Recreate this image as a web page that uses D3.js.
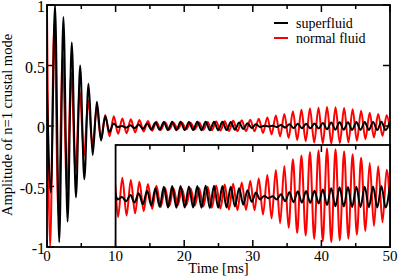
<!DOCTYPE html>
<html>
<head>
<meta charset="utf-8">
<script src="https://cdn.jsdelivr.net/npm/d3@7"></script>
<style>
  body { margin: 0; background: #fff; }
  svg { display: block; }
  svg text { font-family: "Liberation Serif", "Times New Roman", Times, "DejaVu Serif", serif; }
</style>
</head>
<body>
<div id="container"></div>
<script>

// Extrema of each curve (time in ms, amplitude)
var superfluidTime = [0, 0.56, 1.17, 1.78, 2.39, 3.0, 3.61, 4.22, 4.83, 5.44, 6.05, 6.66, 7.27, 7.88, 8.49, 9.1, 9.71,
  10.32, 10.93, 11.54, 12.15, 12.76, 13.37, 13.98, 14.59, 15.2, 15.81, 16.42, 17.03, 17.64, 18.25, 18.86, 19.47,
  20.08, 20.69, 21.3, 21.91, 22.52, 23.13, 23.74, 24.35, 24.96, 25.57, 26.18, 26.79, 27.4, 28.01, 28.62, 29.23,
  29.84, 30.45, 31.06, 31.67, 32.28, 32.89, 33.5, 34.11, 34.72, 35.33, 35.94, 36.55, 37.16, 37.77, 38.38, 38.99,
  39.6, 40.21, 40.82, 41.43, 42.04, 42.65, 43.26, 43.87, 44.48, 45.09, 45.7, 46.31, 46.92, 47.53, 48.14, 48.75,
  49.36, 49.97];
var superfluidAmp = [0.3, -0.55, 1.0, -0.96, 0.9, -0.79, 0.69, -0.59, 0.5, -0.44, 0.35, -0.24, 0.2, -0.12, 0.08, -0.05, 0.02,
  -0.008, 0.0, -0.014, 0.006, -0.018, 0.012, -0.024, 0.02, -0.028, 0.028, -0.032, 0.033, -0.034, 0.035, -0.035, 0.035,
  -0.034, 0.034, -0.034, 0.035, -0.035, 0.036, -0.036, 0.036, -0.035, 0.035, -0.034, 0.033, -0.031, 0.028, -0.025, 0.022,
  -0.016, 0.014, -0.008, 0.003, -0.004, 0.002, -0.008, 0.009, -0.014, 0.015, -0.017, 0.018, -0.018, 0.019, -0.019, 0.02,
  -0.021, 0.024, -0.026, 0.028, -0.03, 0.031, -0.031, 0.032, -0.033, 0.033, -0.033, 0.033, -0.033, 0.034, -0.034, 0.035,
  -0.034, 0.034];

var normalTime = [0, 0.45, 1.06, 1.67, 2.29, 2.91, 3.53, 4.15, 4.77, 5.39, 6.01, 6.63, 7.25, 7.87, 8.49, 9.11, 9.74,
  10.36, 10.98, 11.6, 12.22, 12.84, 13.47, 14.09, 14.71, 15.33, 15.95, 16.57, 17.2, 17.82, 18.44, 19.06, 19.68,
  20.3, 20.93, 21.55, 22.17, 22.79, 23.41, 24.03, 24.66, 25.28, 25.9, 26.52, 27.14, 27.76, 28.39, 29.01, 29.63,
  30.25, 30.87, 31.49, 32.12, 32.74, 33.36, 33.98, 34.6, 35.22, 35.85, 36.47, 37.09, 37.71, 38.33, 38.95, 39.58,
  40.2, 40.82, 41.44, 42.06, 42.68, 43.31, 43.93, 44.55, 45.17, 45.79, 46.41, 47.04, 47.66, 48.28, 48.9, 49.52, 50.0];
var normalAmp = [0.95, -1.0, 0.85, -0.74, 0.59, -0.53, 0.44, -0.37, 0.29, -0.25, 0.21, -0.16, 0.14, -0.11, 0.09, -0.085, 0.08,
  -0.065, 0.062, -0.06, 0.055, -0.053, 0.049, -0.046, 0.042, -0.039, 0.036, -0.033, 0.03, -0.029, 0.027, -0.027, 0.026,
  -0.027, 0.027, -0.028, 0.029, -0.031, 0.033, -0.035, 0.037, -0.038, 0.04, -0.041, 0.043, -0.043, 0.047, -0.042, 0.052,
  -0.043, 0.06, -0.057, 0.071, -0.07, 0.087, -0.085, 0.1, -0.1, 0.122, -0.117, 0.134, -0.125, 0.145, -0.136, 0.151,
  -0.143, 0.157, -0.146, 0.154, -0.141, 0.148, -0.135, 0.138, -0.122, 0.127, -0.11, 0.11, -0.094, 0.099, -0.082, 0.088, -0.03];

// Axis ticks
var xMajor = [0, 10, 20, 30, 40, 50];
var xMinor = [5, 15, 25, 35, 45];
var yMajor = [1, 0.5, 0, -0.5, -1];
var yLabels = ["1", "0.5", "0", "-0.5", "-1"];

var series = [
  {name: "superfluid", color: "#000000", data: d3.zip(superfluidTime, superfluidAmp)},
  {name: "normal fluid", color: "#ff0000", data: d3.zip(normalTime, normalAmp)}
];

var width = 399,
    height = 278;

var serif = "'Liberation Serif', 'Times New Roman', Times, 'DejaVu Serif', serif";

var svg = d3.select("#container")
            .append("svg")
              .attr("width", width)
              .attr("height", height);

// Main scales
var x = d3.scaleLinear().domain([0, 50]).range([47, 390]);
var y = d3.scaleLinear().domain([-1, 1]).range([247, 5]);

// Inset: same time axis from 10 ms, magnified amplitude
var yIn = d3.scaleLinear().domain([-0.162, 0.168]).range([247, 145]);

var defs = svg.append("defs");
defs.append("clipPath").attr("id", "clipMain")
  .append("rect")
    .attr("x", x(0)).attr("y", y(1))
    .attr("width", x(50) - x(0)).attr("height", y(-1) - y(1));
defs.append("clipPath").attr("id", "clipInset")
  .append("rect")
    .attr("x", x(10)).attr("y", yIn.range()[1])
    .attr("width", x(50) - x(10)).attr("height", yIn.range()[0] - yIn.range()[1]);

// Main ticks (inward)
var ticks = svg.append("g").attr("stroke", "#000").attr("stroke-width", 1.5);
xMajor.forEach(function(t) {
  ticks.append("line").attr("x1", x(t)).attr("x2", x(t)).attr("y1", y(-1)).attr("y2", y(-1) - 7);
  ticks.append("line").attr("x1", x(t)).attr("x2", x(t)).attr("y1", y(1)).attr("y2", y(1) + 7);
});
xMinor.forEach(function(t) {
  ticks.append("line").attr("x1", x(t)).attr("x2", x(t)).attr("y1", y(-1)).attr("y2", y(-1) - 4);
  ticks.append("line").attr("x1", x(t)).attr("x2", x(t)).attr("y1", y(1)).attr("y2", y(1) + 4);
});
yMajor.forEach(function(v) {
  ticks.append("line").attr("x1", x(0)).attr("x2", x(0) + 7).attr("y1", y(v)).attr("y2", y(v));
  ticks.append("line").attr("x1", x(50)).attr("x2", x(50) - 7).attr("y1", y(v)).attr("y2", y(v));
});

// Curves through the extrema
var line = d3.line()
             .x(function(d) { return x(d[0]); })
             .y(function(d) { return y(d[1]); })
             .curve(d3.curveMonotoneX);

var lineIn = d3.line()
               .x(function(d) { return x(d[0]); })
               .y(function(d) { return yIn(d[1]); })
               .curve(d3.curveMonotoneX);

// red first so black sits on top
var drawOrder = [series[1], series[0]];

svg.append("g")
  .attr("clip-path", "url(#clipMain)")
  .selectAll("path")
  .data(drawOrder)
  .enter()
  .append("path")
    .attr("d", function(d) { return line(d.data); })
    .attr("fill", "none")
    .attr("stroke", function(d) { return d.color; })
    .attr("stroke-width", 2)
    .attr("stroke-linejoin", "round");

// Main frame
svg.append("rect")
  .attr("x", x(0)).attr("y", y(1))
  .attr("width", x(50) - x(0)).attr("height", y(-1) - y(1))
  .attr("fill", "none")
  .attr("stroke", "#000")
  .attr("stroke-width", 1.8);

// Inset box
svg.append("rect")
  .attr("x", x(10)).attr("y", yIn.range()[1])
  .attr("width", x(50) - x(10)).attr("height", yIn.range()[0] - yIn.range()[1])
  .attr("fill", "#fff");

svg.append("g")
  .attr("clip-path", "url(#clipInset)")
  .selectAll("path")
  .data(drawOrder)
  .enter()
  .append("path")
    .attr("d", function(d) { return lineIn(d.data.filter(function(p) { return p[0] > 8.5; })); })
    .attr("fill", "none")
    .attr("stroke", function(d) { return d.color; })
    .attr("stroke-width", 2)
    .attr("stroke-linejoin", "round");

// Inset ticks along its top edge, and the shared bottom ticks again
var insetTicks = svg.append("g").attr("stroke", "#000").attr("stroke-width", 1.5);
[20, 30, 40].forEach(function(t) {
  insetTicks.append("line").attr("x1", x(t)).attr("x2", x(t)).attr("y1", yIn.range()[1]).attr("y2", yIn.range()[1] + 7);
  insetTicks.append("line").attr("x1", x(t)).attr("x2", x(t)).attr("y1", y(-1)).attr("y2", y(-1) - 7);
});
[15, 25, 35, 45].forEach(function(t) {
  insetTicks.append("line").attr("x1", x(t)).attr("x2", x(t)).attr("y1", yIn.range()[1]).attr("y2", yIn.range()[1] + 4.5);
  insetTicks.append("line").attr("x1", x(t)).attr("x2", x(t)).attr("y1", y(-1)).attr("y2", y(-1) - 4);
});

svg.append("rect")
  .attr("x", x(10)).attr("y", yIn.range()[1])
  .attr("width", x(50) - x(10)).attr("height", yIn.range()[0] - yIn.range()[1])
  .attr("fill", "none")
  .attr("stroke", "#000")
  .attr("stroke-width", 1.8);

// Tick labels
svg.append("g")
  .selectAll("text")
  .data(xMajor)
  .enter()
  .append("text")
    .attr("x", function(d) { return x(d); })
    .attr("y", 261)
    .attr("text-anchor", "middle")
    .attr("font-family", serif)
    .style("font-size", "15px")
    .text(function(d) { return d; });

svg.append("g")
  .selectAll("text")
  .data(yMajor)
  .enter()
  .append("text")
    .attr("x", 45)
    .attr("y", function(d) { return y(d) + 1.5; })
    .attr("dy", "0.35em")
    .attr("text-anchor", "end")
    .attr("font-family", serif)
    .style("font-size", "16px")
    .text(function(d, i) { return yLabels[i]; });

// Axis titles
svg.append("text")
  .attr("x", 218.5)
  .attr("y", 272.5)
  .attr("text-anchor", "middle")
  .attr("font-family", serif)
  .style("font-size", "14.5px")
  .text("Time [ms]");

svg.append("text")
  .attr("transform", "translate(12,125) rotate(-90)")
  .attr("text-anchor", "middle")
  .attr("font-family", serif)
  .style("font-size", "14.5px")
  .text("Amplitude of n=1 crustal mode");

// Legend
var legend = svg.append("g")
                .selectAll("g")
                .data(series)
                .enter()
                .append("g")
                  .attr("transform", function(d, i) { return "translate(274," + (23 + i * 15) + ")"; });

legend.append("line")
  .attr("x1", 0).attr("x2", 14)
  .attr("stroke", function(d) { return d.color; })
  .attr("stroke-width", 2);

legend.append("text")
  .attr("x", 22)
  .attr("y", 4.5)
  .attr("font-family", serif)
  .style("font-size", "14px")
  .text(function(d) { return d.name; });

</script>
</body>
</html>
